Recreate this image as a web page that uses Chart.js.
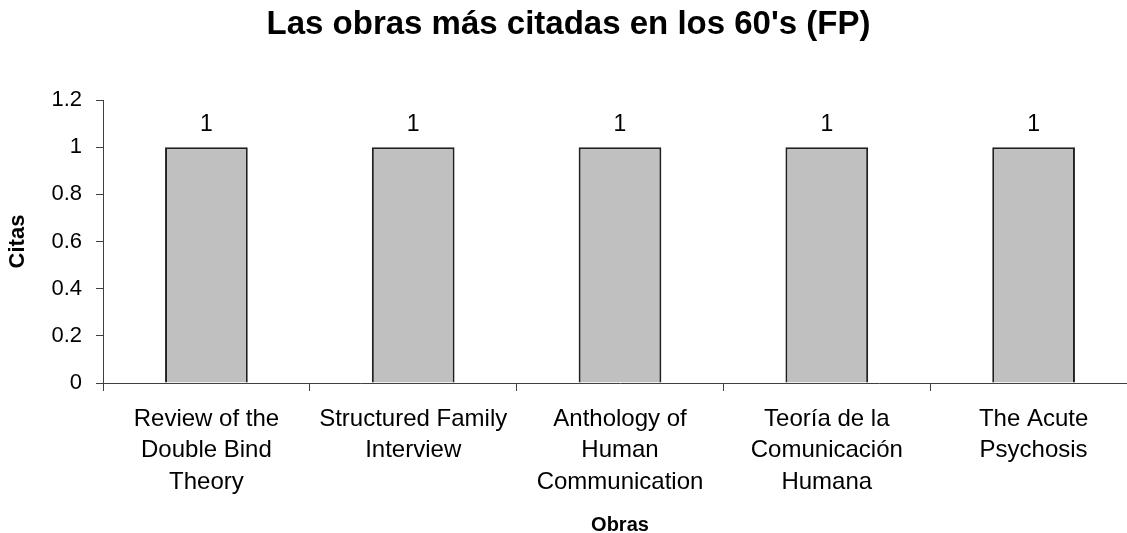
<!DOCTYPE html>
<html>
<head>
<meta charset="utf-8">
<script src="https://cdn.jsdelivr.net/npm/chart.js@4/dist/chart.umd.min.js"></script>
<style>
  html, body { margin: 0; padding: 0; background: #fff; overflow: hidden; }
  #wrap { width: 1127px; height: 533px; overflow: hidden; }
  canvas { display: block; }
</style>
</head>
<body>
<div id="wrap">
  <canvas id="myChartObras" width="1137" height="545"></canvas>
</div>
<script>
const obras = [
  ["Review of the", "Double Bind", "Theory"],
  ["Structured Family", "Interview"],
  ["Anthology of", "Human", "Communication"],
  ["Teoría de la", "Comunicación", "Humana"],
  ["The Acute", "Psychosis"]
];
const citas = [1, 1, 1, 1, 1];

const yMin = 0;
const yMax = 1.2;
const yStep = 0.2;

const chartTitle = "Las obras más citadas en los 60's (FP)";
const xTitle = "Obras";
const yTitle = "Citas";

const fontFamily = "'Liberation Sans', Arial, sans-serif";
const axisColor = "#404040";

// labels over the bars
const valueLabels = {
  id: "valueLabels",
  afterDatasetsDraw(chart) {
    const { ctx } = chart;
    const meta = chart.getDatasetMeta(0);
    ctx.save();
    ctx.font = "23px " + fontFamily;
    ctx.fillStyle = "#000";
    ctx.textAlign = "center";
    ctx.textBaseline = "middle";
    meta.data.forEach((bar, i) => {
      ctx.fillText(String(chart.data.datasets[0].data[i]), bar.x, bar.y - 23);
    });
    ctx.restore();
  }
};

const config = {
  type: "bar",
  data: {
    labels: obras,
    datasets: [
      {
        data: citas,
        backgroundColor: "#C0C0C0",
        borderColor: "#202020",
        borderWidth: 2,
        barPercentage: 0.4,
        categoryPercentage: 1
      }
    ]
  },
  options: {
    responsive: false,
    animation: false,
    devicePixelRatio: 1,
    layout: { padding: 0 },
    plugins: {
      legend: { display: false },
      tooltip: { enabled: false },
      title: {
        display: true,
        text: chartTitle,
        color: "#000",
        font: { family: fontFamily, size: 33, weight: "bold", lineHeight: 1.2 },
        padding: { top: 5, bottom: 55.4 }
      }
    },
    scales: {
      x: {
        offset: true,
        grid: {
          display: true,
          offset: true,
          drawOnChartArea: false,
          drawTicks: true,
          tickLength: 8,
          color: axisColor
        },
        border: { color: axisColor, width: 1 },
        ticks: {
          color: "#000",
          font: { family: fontFamily, size: 24, lineHeight: 1.3 },
          padding: 13,
          maxRotation: 0,
          minRotation: 0,
          autoSkip: false
        },
        title: {
          display: true,
          text: xTitle,
          color: "#000",
          font: { family: fontFamily, size: 20, weight: "bold", lineHeight: 1.2 },
          padding: { top: 0, bottom: 8 }
        },
        afterFit(scale) {
          scale.height = 162;
        }
      },
      y: {
        min: yMin,
        max: yMax,
        grid: {
          display: true,
          drawOnChartArea: false,
          drawTicks: true,
          tickLength: 7,
          color: axisColor
        },
        border: { color: axisColor, width: 1 },
        ticks: {
          stepSize: yStep,
          color: "#000",
          font: { family: fontFamily, size: 22 },
          padding: 14,
          callback: (v) => String(Math.round(v * 10) / 10)
        },
        title: {
          display: true,
          text: yTitle,
          color: "#000",
          font: { family: fontFamily, size: 22, weight: "bold", lineHeight: 1.2 },
          padding: { top: 5, bottom: 0 }
        },
        afterFit(scale) {
          scale.width = 103;
        }
      }
    }
  },
  plugins: [valueLabels]
};

const ctx = document.getElementById("myChartObras").getContext("2d");
const myChart = new Chart(ctx, config);
</script>
</body>
</html>
